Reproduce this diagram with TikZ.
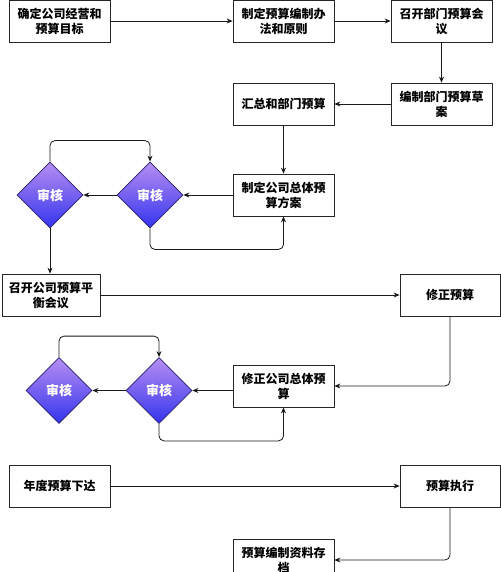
\documentclass[tikz,border=0pt]{standalone}
\usepackage{fontspec}
\setmainfont{Noto Sans CJK SC}
\usetikzlibrary{shapes.geometric,arrows.meta}
\definecolor{checktop}{RGB}{182,142,242}
\definecolor{checkbottom}{RGB}{52,52,238}
\definecolor{checkline}{RGB}{40,30,110}
\tikzset{basic/.style={draw=black!85,line width=0.8pt,align=center,inner sep=0pt,
                       font=\fontsize{12}{15}\selectfont\bfseries}}
\tikzset{process/.style={basic,rectangle,minimum width=101pt,minimum height=42pt}}
\tikzset{check/.style={basic,diamond,aspect=1,minimum size=66pt,draw=checkline,
                       top color=checktop,bottom color=checkbottom,text=white,
                       font=\fontsize{13}{15}\selectfont\bfseries}}
\tikzset{link/.style={draw=black!90,line width=0.8pt,rounded corners=5pt,
                      -{Stealth[length=6pt,width=5pt]}}}

\begin{document}
\begin{tikzpicture}[x=1pt,y=-1pt]
    \useasboundingbox (0,0) rectangle (500,572);
    % first block
    \node[process] (goal) at (59.5,21) {确定公司经营和\\预算目标};
    \node[process] (rule) at (283.5,21) {制定预算编制办\\法和原则};
    \node[process] (meet) at (441.5,21) {召开部门预算会\\议};
    \node[process] (draft) at (441.5,104) {编制部门预算草\\案};
    \node[process] (sum) at (283.5,104) {汇总和部门预算};
    \node[process] (plan) at (283.5,195) {制定公司总体预\\算方案};
    \node[check] (chkA) at (150,195) {审核};
    \node[check] (chkB) at (50,195) {审核};
    % second block
    \node[process,minimum width=98pt] (balance) at (51,295) {召开公司预算平\\衡会议};
    \node[process,minimum width=100pt] (fix) at (450,295) {修正预算};
    \node[process] (fixplan) at (283.5,386) {修正公司总体预\\算};
    \node[check] (chkC) at (159,390.5) {审核};
    \node[check] (chkD) at (59,390.5) {审核};
    % third block
    \node[process] (issue) at (59.5,486) {年度预算下达};
    \node[process,minimum width=100pt] (run) at (450,486) {预算执行};
    \node[process] (file) at (283.5,560) {预算编制资料存\\档};
    % Connectors
    \foreach \a/\b in {goal/rule,rule/meet,meet/draft,draft/sum,sum/plan,
                       plan/chkA,chkA/chkB,balance/fix,chkC/chkD,issue/run}{%
          \draw[link] (\a) -- (\b);
        }
    \draw[link] (chkB.south) -- (chkB.south |- balance.north);
    \draw[link] (fixplan.west |- chkC) -- (chkC);
    \draw[link] (chkB.north) -- ++(0,-21) -| (chkA.north);
    \draw[link] (chkA.south) -- ++(0,21) -| (plan.south);
    \draw[link] (chkD.north) -- ++(0,-21) -| (chkC.north);
    \draw[link] (chkC.south) -- ++(0,17) -| (fixplan.south);
    \draw[link] (fix.south) |- (fixplan.east);
    \draw[link] (run.south) |- (file.east);
\end{tikzpicture}
\end{document}
